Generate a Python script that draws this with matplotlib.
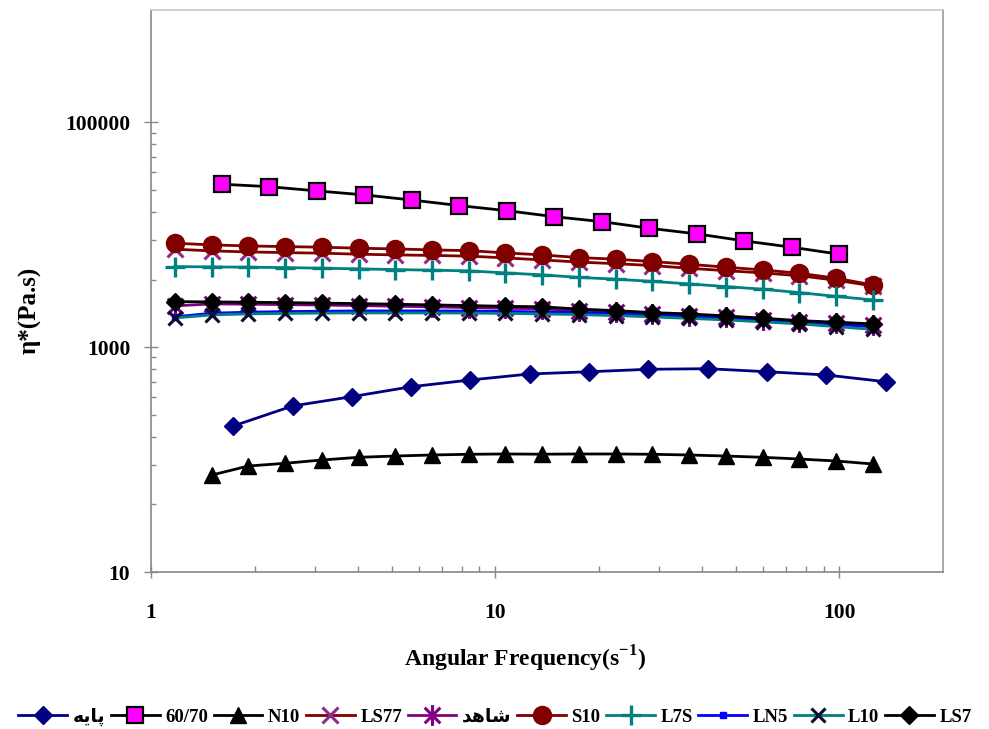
import matplotlib
matplotlib.use('Agg')
import matplotlib.pyplot as plt
from matplotlib.path import Path
from matplotlib.ticker import FixedLocator, FuncFormatter

plt.rcParams['font.family'] = ['Liberation Serif', 'DejaVu Sans']
plt.rcParams['font.weight'] = 'bold'
plt.rcParams['mathtext.fontset'] = 'custom'
plt.rcParams['mathtext.rm'] = 'Liberation Serif'
plt.rcParams['mathtext.bf'] = 'Liberation Serif:bold'

# angular frequency (1/s), three different sweeps
freq_a = [1.174, 1.501, 1.919, 2.453, 3.137, 4.010, 5.127, 6.555, 8.381, 10.71,
          13.70, 17.51, 22.39, 28.63, 36.60, 46.79, 59.82, 76.49, 97.79, 125.0]
freq_b = [1.604, 2.204, 3.028, 4.161, 5.717, 7.855, 10.79, 14.83, 20.38, 28.00,
          38.47, 52.86, 72.63, 99.80]
freq_c = [1.733, 2.577, 3.832, 5.698, 8.473, 12.60, 18.74, 27.86, 41.43, 61.61,
          91.61, 136.2]

# complex viscosity eta* (Pa.s)
paye = [199, 300, 363, 445, 511, 578, 605, 636, 644, 605, 566, 493]          # freq_c
pg6070 = [28200, 26800, 24600, 22650, 20400, 18200, 16400, 14500, 13100, 11440,
          10200, 8830, 7760, 6720]                                           # freq_b
n10 = [72.9, 87.7, 92.7, 99.2, 104.8, 107.6, 109.9, 111.5, 112.2, 111.7,
       112.2, 112.2, 111.5, 109.9, 107.6, 104.8, 101.2, 97.2, 91.4]          # freq_a[1:]
ls77 = [7447, 7190, 7040, 6943, 6863, 6721, 6624, 6558, 6460, 6228,
        5975, 5718, 5535, 5325, 5040, 4794, 4580, 4323, 3945, 3507]
shahed = [2330, 2428, 2413, 2393, 2369, 2345, 2316, 2283, 2250, 2218,
          2196, 2103, 2040, 1966, 1914, 1841, 1760, 1682, 1628, 1579]
s10 = [8420, 8130, 7960, 7850, 7760, 7600, 7490, 7340, 7230, 6900,
       6620, 6270, 6070, 5780, 5470, 5150, 4870, 4550, 4110, 3580]
l7s = [5213, 5181, 5149, 5107, 5045, 4974, 4903, 4843, 4775, 4582,
       4398, 4178, 4027, 3849, 3657, 3461, 3281, 3060, 2831, 2635]
ln5 = [1863, 2006, 2048, 2073, 2090, 2103, 2103, 2103, 2095, 2082,
       2061, 2031, 1990, 1938, 1879, 1822, 1749, 1679, 1595, 1516]
l10 = [1822, 1938, 1978, 1998, 2011, 2019, 2019, 2019, 2011, 1998,
       1978, 1950, 1910, 1860, 1804, 1749, 1679, 1612, 1525, 1440]
ls7 = [2545, 2529, 2514, 2493, 2468, 2443, 2413, 2378, 2345, 2311,
       2288, 2182, 2116, 2031, 1978, 1899, 1811, 1724, 1669, 1612]

# legend labels (Persian words given in presentation forms, visual order)
labels = ['\ufeea\ufbfe\ufe8e\ufb58', '60/70', 'N10', 'LS77',
          '\ufeaa\ufeeb\ufe8e\ufeb7', 'S10', 'L7S', 'LN5', 'L10', 'LS7']

x_major = [1, 10, 100]
y_major = [10, 1000, 100000]

# excel style "star" marker
star = Path([(0, -1), (0, 1), (-0.75, -0.75), (0.75, 0.75), (-0.75, 0.75), (0.75, -0.75)],
            [Path.MOVETO, Path.LINETO, Path.MOVETO, Path.LINETO, Path.MOVETO, Path.LINETO])

fig = plt.figure(figsize=(9.89, 7.29), dpi=100)
ax = fig.add_axes([151 / 989, 1 - 572 / 729, 792 / 989, 562 / 729])

lw = 2.0
ax.plot(freq_c, paye, color='#000080', lw=lw, marker='D', ms=9.5, mfc='#000080', mec='#000080',
        label=labels[0])
ax.plot(freq_b, pg6070, color='black', lw=lw, marker='s', ms=11, mfc='#ff00ff', mec='black',
        mew=1.6, label=labels[1])
ax.plot(freq_a[1:], n10, color='black', lw=lw, marker='^', ms=11, mfc='black', mec='black',
        label=labels[2])
ax.plot(freq_a, ls77, color='#800000', lw=lw, marker='x', ms=11, mec='#8a2c8a', mew=2.2,
        label=labels[3])
ax.plot(freq_a, shahed, color='#800080', lw=lw, marker=star, ms=15, mec='#800080', mfc='none',
        mew=2.2, label=labels[4])
ax.plot(freq_a, s10, color='#800000', lw=lw, marker='o', ms=13, mfc='#800000', mec='#800000',
        label=labels[5])
ax.plot(freq_a, l7s, color='#008080', lw=lw, marker='+', ms=14, mec='#008080', mew=2.4,
        label=labels[6])
ax.plot(freq_a, ln5, color='#0000ff', lw=lw, marker='s', ms=4, mfc='#0000ff', mec='#0000ff',
        label=labels[7])
ax.plot(freq_a, l10, color='#008080', lw=lw, marker='x', ms=10, mec='#0b0b30', mew=2.2,
        label=labels[8])
ax.plot(freq_a, ls7, color='black', lw=lw, marker='D', ms=9.5, mfc='black', mec='black',
        label=labels[9])

ax.set_xscale('log')
ax.set_yscale('log')
ax.set_xlim(1, 200)
ax.set_ylim(10, 1e6)

ax.xaxis.set_major_locator(FixedLocator(x_major))
ax.xaxis.set_minor_locator(FixedLocator([k * 10 ** d for d in (0, 1) for k in range(2, 10)]))
ax.yaxis.set_major_locator(FixedLocator(y_major))
ax.yaxis.set_minor_locator(FixedLocator([m * k * k for m in (10, 1000) for k in range(2, 10)]))
fmt = FuncFormatter(lambda v, p: '%d' % round(v))
ax.xaxis.set_major_formatter(fmt)
ax.yaxis.set_major_formatter(fmt)
ax.xaxis.set_minor_formatter(FuncFormatter(lambda v, p: ''))
ax.yaxis.set_minor_formatter(FuncFormatter(lambda v, p: ''))

tick_c = '#888888'
ax.tick_params(axis='y', which='major', direction='inout', length=10, width=1, color=tick_c,
               pad=10, labelsize=15.5)
ax.tick_params(axis='y', which='minor', direction='in', length=3.6, width=1, color=tick_c)
ax.tick_params(axis='x', which='major', direction='inout', length=9, width=1, color=tick_c,
               pad=18, labelsize=15.5)
ax.tick_params(axis='x', which='minor', direction='in', length=4.3, width=1, color=tick_c)

ax.spines['left'].set_color('#888888')
ax.spines['bottom'].set_color('#888888')
ax.spines['top'].set_color('#c8c8c8')
ax.spines['right'].set_color('#999999')
for s in ax.spines.values():
    s.set_linewidth(1.2)

fig.text(525 / 989, 1 - 659 / 729, 'Angular Frequency(s$^{\\mathbf{-1}}$)', ha='center',
         va='center', fontsize=17, fontweight='bold')
fig.text(30 / 989, 1 - 310 / 729, 'η*(Pa.s)', rotation=90, ha='center', va='center',
         fontsize=18, fontweight='bold')

fig.legend(loc='center', bbox_to_anchor=(495 / 989, 12 / 729), ncol=10, frameon=False,
           numpoints=1, handlelength=2.6, handletextpad=0.3, columnspacing=0.3,
           prop={'size': 13.5, 'weight': 'bold'}, borderaxespad=0, borderpad=0)

fig.savefig('out.png', dpi=100)
